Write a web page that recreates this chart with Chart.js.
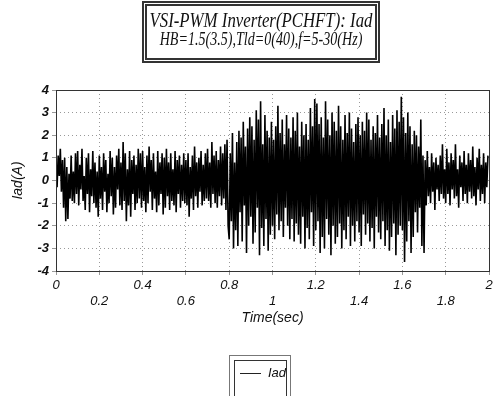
<!DOCTYPE html>
<html>
<head>
<meta charset="utf-8">
<script src="https://cdn.jsdelivr.net/npm/chart.js@4.4.1/dist/chart.umd.min.js"></script>
<style>
  body { margin: 0; background: #fff; }
  #page { position: relative; width: 497px; height: 396px; overflow: hidden; background: #fff; }
  #chart { position: absolute; left: 0; top: 0; }
  .title-box {
    position: absolute; left: 142px; top: 1px; width: 238px; height: 62px;
    box-sizing: border-box; border: 5px double #333;
    font-family: "Liberation Serif", "Times New Roman", serif; font-style: italic; color: #111;
  }
  .title-box div { position: absolute; left: 50%; white-space: nowrap; line-height: 1; }
  .t1 { top: 4px; font-size: 21px; transform: translateX(-50%) scaleX(0.80); }
  .t2 { top: 23px; font-size: 19px; transform: translateX(-50%) scaleX(0.74); }
  .legend-box {
    position: absolute; left: 229px; top: 355px; width: 62px; height: 48px;
    box-sizing: border-box; border: 1px solid #777;
  }
  .legend-inner {
    position: absolute; left: 4px; top: 4px; right: 3px; bottom: 0;
    border: 1px solid #333;
    font-family: "Liberation Sans", Arial, sans-serif; font-style: italic; font-size: 13px; color: #111;
  }
  .legend-inner .swatch { position: absolute; left: 5px; top: 12px; width: 21px; border-top: 1px solid #222; }
  .legend-inner .lbl { position: absolute; left: 33px; top: 4px; }
</style>
</head>
<body>
<div id="page">
  <canvas id="chart" width="497" height="396"></canvas>
  <div class="title-box">
    <div class="t1">VSI-PWM Inverter(PCHFT): Iad</div>
    <div class="t2">HB=1.5(3.5),Tld=0(40),f=5-30(Hz)</div>
  </div>
  <div class="legend-box"><div class="legend-inner"><span class="swatch"></span><span class="lbl">Iad</span></div></div>
</div>
<script>
// sample step of the trace (sec)
const sampleStep = 0.005;

// Iad (A), 20 samples per 0.1 s
const iadValues = [
  0.9,-0.3,1.1,0.2,1.4,-0.5,0.9,-1.2,1.0,-1.8,0.6,-1.7,0.3,-0.8,1.1,-0.9,0.4,-1.0,1.2,-0.6,
  1.3,-1.1,0.7,-0.4,1.4,-0.9,0.2,-1.3,1.0,-0.6,1.2,-1.4,0.5,-0.7,1.3,-1.0,0.8,-1.2,0.4,-1.6,
  1.1,-0.8,0.6,-1.3,1.2,-0.5,0.9,-1.4,0.3,-1.0,1.3,-0.7,1.0,-1.5,0.6,-1.2,1.1,-0.4,1.4,-1.1,
  0.8,-1.3,1.7,-0.9,1.2,-1.8,0.5,-1.1,1.3,-1.6,0.9,-0.6,1.1,-1.3,0.7,-1.0,1.4,-0.8,1.2,-1.2,
  1.3,-0.9,0.6,-1.4,1.1,-1.0,1.5,-0.5,0.9,-1.3,1.2,-0.8,0.4,-1.4,1.3,-1.1,0.8,-0.6,1.2,-1.5,
  1.0,-1.2,1.4,-0.7,0.8,-1.3,1.2,-0.9,0.5,-1.1,1.3,-1.4,0.9,-0.6,1.1,-1.2,0.7,-0.9,1.2,-1.0,
  0.9,-1.1,1.2,-1.6,0.6,-0.8,1.1,-1.3,1.5,-0.7,0.8,-1.2,1.0,-0.5,1.3,-1.1,0.7,-0.9,1.2,-0.8,
  1.4,-0.9,0.8,-1.2,1.7,-0.6,1.1,-1.0,1.3,-1.2,0.9,-0.7,1.5,-1.1,1.2,-0.8,1.6,-1.3,1.8,-2.0,
  -2.6,1.2,-1.8,2.1,-3.0,0.8,-2.2,1.7,-2.9,2.2,-1.4,1.9,-2.7,2.6,-1.1,1.5,-3.2,2.3,-2.0,2.8,
  -1.6,2.4,-2.8,1.8,-2.3,3.1,-1.2,2.7,-3.3,3.5,-2.1,1.6,-2.9,2.9,-1.7,2.2,-3.1,1.9,-2.4,2.6,
  -2.0,1.8,-2.6,2.4,-1.5,3.3,-2.2,2.1,-1.8,2.7,-2.5,1.6,-1.2,2.9,-2.0,2.3,-2.6,1.9,-1.7,2.8,
  -2.7,2.2,-1.9,3.0,-2.4,1.5,-2.8,2.6,-1.6,2.0,-3.0,2.5,-2.1,1.8,-2.6,3.2,-1.4,2.4,-2.9,3.6,
  -2.2,3.4,-1.8,2.5,-3.2,2.8,-2.5,1.9,-3.0,3.5,-1.7,2.7,-2.4,2.0,-3.3,3.0,-2.0,2.6,-2.8,2.2,
  -2.5,3.3,-1.9,2.4,-3.0,1.8,-2.2,2.9,-2.6,2.1,-1.6,3.0,-2.9,2.3,-2.0,1.7,-2.7,2.5,-1.8,2.8,
  -2.3,2.0,-2.9,2.6,-1.5,2.2,-2.4,3.0,-1.9,2.7,-2.7,1.8,-2.1,2.4,-3.0,2.1,-1.6,2.9,-2.3,1.9,
  -2.6,2.5,-1.8,3.2,-2.9,2.0,-2.2,2.7,-3.1,1.7,-2.5,2.9,-1.9,2.3,-3.3,3.1,-2.4,2.6,-2.0,3.7,
  -2.2,2.8,-3.6,2.1,-2.7,3.0,-1.8,2.4,-3.2,1.6,-2.5,2.2,-1.4,2.0,-2.3,1.5,-1.2,2.7,-2.9,1.1,
  -3.2,0.9,-1.1,1.3,-0.7,0.6,-1.0,1.2,-0.5,0.8,-1.3,1.0,-0.4,0.7,-0.9,1.1,-0.6,1.6,-0.8,0.5,
  -1.0,1.4,-0.6,0.8,-1.1,1.2,-0.4,0.9,-0.8,1.6,-0.7,0.5,-1.2,1.1,-0.3,0.8,-0.9,1.3,-0.6,0.7,
  -1.0,1.2,-0.5,0.9,-0.8,1.5,-0.7,0.6,-1.1,1.0,-0.4,1.4,-0.9,0.7,-0.6,1.2,-1.0,0.8,-0.3,1.1
];

const xTicks = [0, 0.2, 0.4, 0.6, 0.8, 1, 1.2, 1.4, 1.6, 1.8, 2];
const yTicks = [-4, -3, -2, -1, 0, 1, 2, 3, 4];

const points = iadValues.map((v, i) => ({ x: i * sampleStep, y: v }));

// frame around the plot area
const framePlugin = {
  id: 'frame',
  afterDraw(chart) {
    const { ctx, chartArea: a } = chart;
    ctx.save();
    ctx.strokeStyle = '#333';
    ctx.lineWidth = 1;
    ctx.strokeRect(a.left + 0.5, a.top + 0.5, a.right - a.left, a.bottom - a.top);
    ctx.restore();
  }
};

const tickFont = { family: '"Liberation Sans", Arial, sans-serif', style: 'italic', size: 13 };

new Chart(document.getElementById('chart').getContext('2d'), {
  type: 'line',
  data: {
    datasets: [{
      label: 'Iad',
      data: points,
      borderColor: '#000',
      borderWidth: 1.6,
      pointRadius: 0,
      tension: 0,
    }],
  },
  options: {
    responsive: false,
    animation: false,
    events: [],
    layout: { padding: { left: 0, right: 8, top: 90, bottom: 65 } },
    plugins: { legend: { display: false }, tooltip: { enabled: false } },
    scales: {
      x: {
        type: 'linear',
        min: 0, max: 2,
        afterBuildTicks: s => { s.ticks = xTicks.map(v => ({ value: v })); },
        afterFit: s => { s.height = 60; },
        grid: { color: '#999', lineWidth: 1, tickLength: 4, drawTicks: true },
        border: { display: false, dash: [1, 3] },
        ticks: {
          color: '#111', font: tickFont, padding: 3, maxRotation: 0, autoSkip: false,
          callback: (v, i) => (i % 2 === 0 ? [String(v), ''] : ['', String(v)]),
        },
        title: { display: true, text: 'Time(sec)', color: '#111', font: { ...tickFont, size: 14 }, padding: { top: 0 } },
      },
      y: {
        min: -4, max: 4,
        afterBuildTicks: s => { s.ticks = yTicks.map(v => ({ value: v })); },
        afterFit: s => { s.width = 56; },
        grid: { color: '#999', lineWidth: 1, tickLength: 4 },
        border: { display: false, dash: [1, 3] },
        ticks: { color: '#111', font: { ...tickFont, weight: 'bold' }, padding: 3 },
        title: { display: true, text: 'Iad(A)', color: '#111', font: { ...tickFont, size: 14 }, padding: { top: 10, bottom: 0 } },
      },
    },
  },
  plugins: [framePlugin],
});
</script>
</body>
</html>
